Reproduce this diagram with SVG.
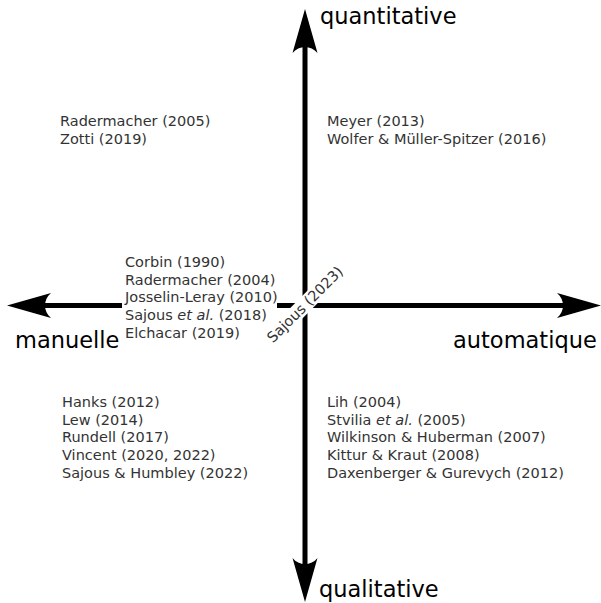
<svg xmlns="http://www.w3.org/2000/svg" width="601" height="603" viewBox="0 0 601 603">
<style>
.ref{font-family:"DejaVu Sans","Liberation Sans",sans-serif;font-size:14.5px;fill:#333333}
.ax{font-family:"DejaVu Sans","Liberation Sans",sans-serif;font-size:22.5px;fill:#000000}
.axis{stroke:#000;stroke-width:5;fill:none}
.head{fill:#000;stroke:none}
</style>
<defs>
<path id="ah" d="M0,0 L-44,-12.5 C-36,-6 -36,6 -44,12.5 Z"/>
</defs>
<rect width="601" height="603" fill="#ffffff"/>
<g id="connectors">
<line class="axis" x1="30" y1="305.5" x2="580" y2="305.5"/>
<line class="axis" x1="305" y1="30" x2="305" y2="582"/>
<use href="#ah" class="head" transform="translate(601,305.5)"/>
<use href="#ah" class="head" transform="translate(7,305.5) rotate(180)"/>
<use href="#ah" class="head" transform="translate(305,9) rotate(-90)"/>
<use href="#ah" class="head" transform="translate(305,602) rotate(90)"/>
</g>
<g id="label-quantitative"><text class="ax" x="320" y="24">quantitative</text></g>
<g id="label-qualitative"><text class="ax" x="319" y="597">qualitative</text></g>
<g id="label-manuelle"><text class="ax" x="15" y="348">manuelle</text></g>
<g id="label-automatique"><text class="ax" x="453" y="348">automatique</text></g>
<g id="node-top-left">
<text class="ref" x="60" y="126">Radermacher (2005)</text>
<text class="ref" x="60" y="143.5">Zotti (2019)</text>
</g>
<g id="node-top-right">
<text class="ref" x="327" y="126">Meyer (2013)</text>
<text class="ref" x="327" y="143.5">Wolfer &amp; Müller-Spitzer (2016)</text>
</g>
<g id="node-center-left">
<rect x="122" y="255" width="155" height="88" fill="#ffffff"/>
<text class="ref" x="125" y="267">Corbin (1990)</text>
<text class="ref" x="125" y="284.7">Radermacher (2004)</text>
<text class="ref" x="125" y="302.4">Josselin-Leray (2010)</text>
<text class="ref" x="125" y="320.1">Sajous <tspan font-style="italic">et al.</tspan> (2018)</text>
<text class="ref" x="125" y="337.8">Elchacar (2019)</text>
</g>
<g id="node-center" transform="translate(305,304.5) rotate(-45)">
<rect x="-51" y="-8" width="102" height="16" fill="#ffffff"/>
<text class="ref" x="0" y="5" text-anchor="middle">Sajous (2023)</text>
</g>
<g id="node-bottom-left">
<text class="ref" x="62" y="407">Hanks (2012)</text>
<text class="ref" x="62" y="424.7">Lew (2014)</text>
<text class="ref" x="62" y="442.4">Rundell (2017)</text>
<text class="ref" x="62" y="460.1">Vincent (2020, 2022)</text>
<text class="ref" x="62" y="477.8">Sajous &amp; Humbley (2022)</text>
</g>
<g id="node-bottom-right">
<text class="ref" x="327" y="407">Lih (2004)</text>
<text class="ref" x="327" y="424.7">Stvilia <tspan font-style="italic">et al.</tspan> (2005)</text>
<text class="ref" x="327" y="442.4">Wilkinson &amp; Huberman (2007)</text>
<text class="ref" x="327" y="460.1">Kittur &amp; Kraut (2008)</text>
<text class="ref" x="327" y="477.8">Daxenberger &amp; Gurevych (2012)</text>
</g>
</svg>
